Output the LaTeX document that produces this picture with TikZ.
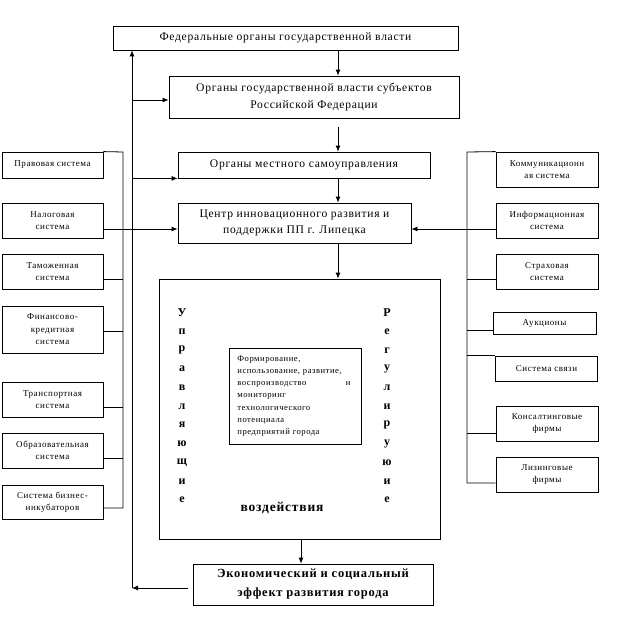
\documentclass[tikz,border=0pt]{standalone}
\usepackage{fontspec}
\setmainfont{Liberation Serif}[LetterSpace=6]
\usetikzlibrary{arrows.meta}
\begin{document}
\begin{tikzpicture}[x=1pt,y=-1pt,line width=0.8pt,
  box/.style={draw,inner sep=0pt,align=center},
  arr/.style={-{Latex[length=6pt,width=5pt]}},
  fbig/.style={font=\fontsize{11.6}{16.5}\selectfont},
  fsm/.style={font=\fontsize{9}{12.5}\selectfont},
  fbold/.style={font=\fontsize{12.5}{19}\selectfont\bfseries},
  vl/.style={inner sep=0pt,font=\fontsize{12}{14}\selectfont\bfseries},
  lbox/.style={box,fsm,minimum width=101pt},
  rbox/.style={box,fsm,minimum width=102pt}]
\useasboundingbox (0,0) rectangle (618,637);
\fill[white] (0,0) rectangle (618,637);
% main column
\node[box,fbig,minimum width=345pt,minimum height=24pt] (fed) at (285.5,38) {Федеральные органы государственной власти};
\node[box,fbig,minimum width=290pt,minimum height=42pt] (sub) at (314,97) {Органы государственной власти субъектов\\Российской Федерации};
\node[box,fbig,minimum width=252pt,minimum height=26pt] (mest) at (304,165) {Органы местного самоуправления};
\node[box,fbig,minimum width=233pt,minimum height=40pt] (cent) at (294.5,223) {Центр инновационного развития и\\поддержки ПП г. Липецка};
\node[box,minimum width=281pt,minimum height=260pt] (big) at (299.5,409) {};
\node[box,minimum width=132pt,minimum height=96pt] (inner) at (295,396) {};
\node[anchor=west,inner sep=0pt,text width=113pt,align=left,font=\fontsize{8.6}{12.2}\selectfont] (innertxt) at (237,396) {Формирование,\\использование, развитие,\\воспроизводство\hfill и\\мониторинг\\технологического\\потенциала\\предприятий города};
\foreach \l [count=\i from 0] in {У,п,р,а,в,л,я,ю,щ,и,е}
  \node[vl] (ul\i) at (182,313+18.7*\i) {\l};
\foreach \l [count=\i from 0] in {Р,е,г,у,л,и,р,у,ю,и,е}
  \node[vl] (rl\i) at (387,313+18.7*\i) {\l};
\node[inner sep=0pt,font=\fontsize{13.5}{15}\selectfont\bfseries] (vozd) at (282,508) {воздействия};
\node[box,fbold,minimum width=240pt,minimum height=41pt] (eff) at (313,584.5) {Экономический и социальный\\эффект развития города};
% left boxes
\node[lbox,minimum height=26pt] (prav) at (52.5,165) {Правовая система};
\node[lbox,minimum height=35pt] (nalog) at (52.5,220.5) {Налоговая\\система};
\node[lbox,minimum height=35pt] (tam) at (52.5,271.5) {Таможенная\\система};
\node[lbox,minimum height=47pt] (fin) at (52.5,329.5) {Финансово-\\кредитная\\система};
\node[lbox,minimum height=35pt] (trans) at (52.5,399.5) {Транспортная\\система};
\node[lbox,minimum height=35pt] (obr) at (52.5,450.5) {Образовательная\\система};
\node[lbox,minimum height=34pt] (biz) at (52.5,502) {Система бизнес-\\инкубаторов};
% right boxes
\node[rbox,minimum height=35pt] (komm) at (547,169.5) {Коммуникационн\\ая система};
\node[rbox,minimum height=35pt] (inf) at (547,220.5) {Информационная\\система};
\node[rbox,minimum height=35pt] (str) at (547,271.5) {Страховая\\система};
\node[box,fsm,minimum width=103pt,minimum height=22pt] (auk) at (544.5,323) {Аукционы};
\node[rbox,minimum height=25pt] (svz) at (546.5,368.5) {Система связи};
\node[rbox,minimum height=35pt] (kons) at (547,423.5) {Консалтинговые\\фирмы};
\node[rbox,minimum height=35pt] (liz) at (547,474.5) {Лизинговые\\фирмы};
% vertical arrows of main column
\draw[arr] (fed.south -| 338,0) -- (sub.north -| 338,0);
\draw[arr] (338,127) -- (mest.north -| 338,0);
\draw[arr] (mest.south -| 338,0) -- (cent.north -| 338,0);
\draw[arr] (cent.south -| 338,0) -- (big.north -| 338,0);
\draw[arr] (big.south -| 301,0) -- (eff.north -| 301,0);
% left feedback line
\coordinate (fb) at (132,588);
\draw[arr] ([xshift=-5pt]eff.west |- fb) -- (fb);
\draw[arr] (fb) -- (fb |- fed.south);
\draw[arr] (fb |- 0,100) -- (sub.west |- 0,100);
\draw[arr] (fb |- mest.south) -- (mest.south west);
% left bus
\coordinate (lt) at (123,152);
\coordinate (lbt) at (123,508);
\draw (prav.north east) -- (lt) -- (lbt) -- (biz.east |- lbt);
\draw[arr] (nalog.east |- 0,229) -- (cent.west |- 0,229);
\draw (tam.east |- 0,279) -- (lt |- 0,279);
\draw (fin.east |- 0,331) -- (lt |- 0,331);
\draw (trans.east |- 0,407) -- (lt |- 0,407);
\draw (obr.east |- 0,458) -- (lt |- 0,458);
% right bus
\coordinate (rt) at (467,152);
\coordinate (rbt) at (467,483);
\draw (komm.north west) -- (rt) -- (rbt) -- (liz.west |- rbt);
\draw[arr] (inf.west |- 0,229) -- (cent.east |- 0,229);
\draw (str.west |- 0,279) -- (rt |- 0,279);
\draw (auk.west |- 0,330) -- (rt |- 0,330);
\draw (svz.north west) -- (rt |- svz.north);
\draw (kons.west |- 0,433) -- (rt |- 0,433);
\end{tikzpicture}
\end{document}
